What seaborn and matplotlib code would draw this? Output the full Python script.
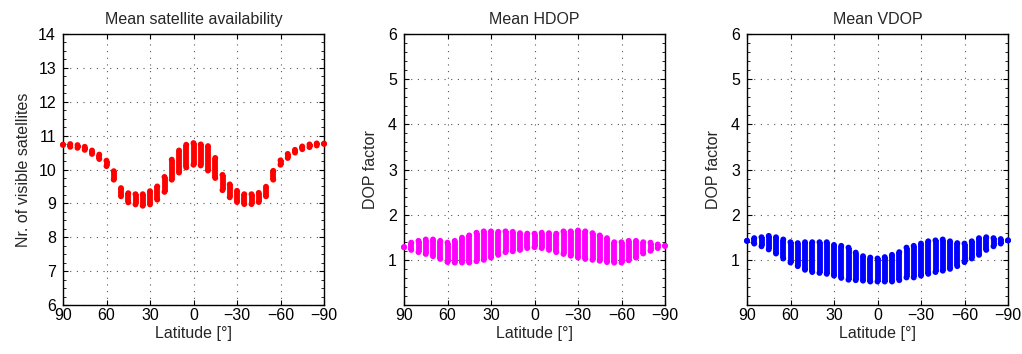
import numpy as np
import pandas as pd
import matplotlib
matplotlib.use("Agg")
import matplotlib.pyplot as plt
from matplotlib.ticker import MultipleLocator
import seaborn as sns

# ---------------- data ----------------
lat = [90, 85, 80, 75, 70, 65, 60, 55, 50, 45, 40, 35, 30, 25, 20, 15, 10, 5, 0,
       -5, -10, -15, -20, -25, -30, -35, -40, -45, -50, -55, -60, -65, -70, -75, -80, -85, -90]

sat_max = [10.73, 10.75, 10.72, 10.67, 10.56, 10.44, 10.26, 9.95, 9.45, 9.30, 9.27, 9.27, 9.36,
           9.50, 9.78, 10.29, 10.56, 10.73, 10.78, 10.74, 10.69, 10.34, 9.84, 9.56, 9.37, 9.27,
           9.27, 9.31, 9.49, 9.96, 10.27, 10.46, 10.58, 10.68, 10.74, 10.77, 10.76]
sat_min = [10.73, 10.67, 10.64, 10.58, 10.46, 10.31, 10.10, 9.70, 9.21, 9.03, 8.97, 8.93, 8.97,
           9.11, 9.34, 9.70, 9.91, 10.06, 10.14, 10.12, 9.97, 9.75, 9.39, 9.18, 9.04, 8.98,
           8.98, 9.04, 9.21, 9.70, 10.14, 10.34, 10.50, 10.60, 10.66, 10.71, 10.76]

hdop_max = [1.28, 1.38, 1.42, 1.45, 1.45, 1.42, 1.38, 1.42, 1.49, 1.54, 1.60, 1.63, 1.63, 1.62,
            1.63, 1.62, 1.59, 1.58, 1.58, 1.60, 1.59, 1.58, 1.63, 1.63, 1.65, 1.63, 1.59, 1.54,
            1.48, 1.39, 1.39, 1.42, 1.42, 1.39, 1.38, 1.34, 1.31]
hdop_min = [1.28, 1.22, 1.17, 1.13, 1.08, 1.02, 0.95, 0.94, 0.94, 0.94, 0.97, 1.00, 1.05, 1.11,
            1.17, 1.19, 1.22, 1.26, 1.28, 1.26, 1.22, 1.17, 1.13, 1.09, 1.05, 1.02, 1.00, 0.98,
            0.95, 0.94, 0.94, 0.99, 1.05, 1.14, 1.20, 1.26, 1.31]

vdop_max = [1.42, 1.48, 1.50, 1.53, 1.50, 1.45, 1.39, 1.37, 1.39, 1.39, 1.39, 1.39, 1.33, 1.31,
            1.27, 1.16, 1.08, 1.05, 1.03, 1.06, 1.11, 1.17, 1.27, 1.31, 1.36, 1.41, 1.43, 1.45,
            1.41, 1.37, 1.36, 1.41, 1.48, 1.50, 1.48, 1.46, 1.43]
vdop_min = [1.42, 1.36, 1.30, 1.23, 1.14, 1.03, 0.94, 0.86, 0.78, 0.73, 0.71, 0.69, 0.65, 0.60,
            0.56, 0.55, 0.54, 0.52, 0.52, 0.52, 0.52, 0.55, 0.61, 0.61, 0.65, 0.69, 0.73, 0.76,
            0.80, 0.86, 0.95, 1.03, 1.11, 1.22, 1.30, 1.36, 1.43]

titles = ["Mean satellite availability", "Mean HDOP", "Mean VDOP"]
ylabels = ["Nr. of visible satellites", "DOP factor", "DOP factor"]
xlabel = "Latitude [°]"
xticks = [90, 60, 30, 0, -30, -60, -90]
colors = ["#ff0000", "#ff00ff", "#0000ff"]

# ---------------- style ----------------
sns.set_theme(style="white")
plt.rcParams["font.family"] = ["Liberation Sans", "DejaVu Sans"]
plt.rcParams["font.size"] = 11.5
plt.rcParams["axes.unicode_minus"] = True

fig = plt.figure(figsize=(10.22, 3.54), dpi=100)
W, H = 1022, 354
lefts = [63, 404, 747]
ax_w = 261
top_px, bot_px = 34, 305

panels = [
    (sat_min, sat_max, (6, 14), list(range(6, 15)), 0.25, 5),
    (hdop_min, hdop_max, (0, 6), [1, 2, 3, 4, 5, 6], 0.2, 7),
    (vdop_min, vdop_max, (0, 6), [1, 2, 3, 4, 5, 6], 0.2, 7),
]

for i, (vmin, vmax, ylim, yticks, minor, lpad) in enumerate(panels):
    ax = fig.add_axes([lefts[i] / W, (H - bot_px) / H, ax_w / W, (bot_px - top_px) / H])
    df = pd.DataFrame({
        "lat": lat + lat,
        "value": list(vmin) + list(vmax),
    })
    lc = ax.vlines(lat, vmin, vmax, colors=colors[i], linewidth=4.2, zorder=3)
    lc.set_clip_on(False)
    sns.scatterplot(data=df, x="lat", y="value", color=colors[i], s=18, linewidth=0,
                    edgecolor="none", ax=ax, zorder=4, clip_on=False, legend=False)

    ax.set_xlim(90, -90)
    ax.set_ylim(*ylim)
    ax.set_xticks(xticks)
    ax.set_yticks(yticks)
    ax.yaxis.set_minor_locator(MultipleLocator(minor))
    ax.grid(True, which="major", linestyle=(0, (1, 5)), color="#555555", linewidth=0.8)
    ax.set_axisbelow(True)
    for sp in ax.spines.values():
        sp.set_visible(True)
        sp.set_color("black")
        sp.set_linewidth(1.0)
    ax.tick_params(axis="both", which="major", direction="in", length=3.5, width=0.8,
                   top=True, right=True, bottom=True, left=True, colors="black",
                   labelsize=11.5)
    ax.tick_params(axis="x", which="major", pad=2.5)
    ax.tick_params(axis="y", which="major", pad=5)
    ax.tick_params(axis="y", which="minor", direction="in", length=2, width=0.6,
                   left=True, right=True, colors="black")
    ax.set_title(titles[i], fontsize=11.5, pad=7)
    ax.set_xlabel(xlabel, fontsize=11.5, labelpad=2)
    ax.set_ylabel(ylabels[i], fontsize=11.5, labelpad=lpad)
    ax.set_facecolor("white")

fig.patch.set_facecolor("white")
fig.savefig("out.png", dpi=100, facecolor="white")
